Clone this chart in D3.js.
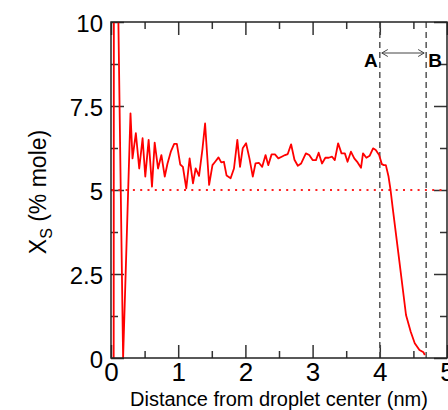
<!DOCTYPE html>
<html>
<head>
<meta charset="utf-8">
<script src="https://cdn.jsdelivr.net/npm/d3@7"></script>
<style>
  html, body { margin: 0; padding: 0; background: #fff; }
  svg { display: block; font-family: Helvetica, Arial, "Liberation Sans", sans-serif; }
</style>
</head>
<body>
<svg id="chart" width="448" height="410"></svg>
<script>
// distance from droplet center (nm) and solvent mole fraction (%)
var distance = [0.04, 0.05, 0.10, 0.11, 0.18,
  0.29, 0.32, 0.37, 0.42, 0.47, 0.51, 0.56, 0.61, 0.65, 0.70, 0.75, 0.80, 0.84,
  0.89, 0.94, 0.98, 1.03, 1.07, 1.12, 1.17, 1.22, 1.26, 1.31, 1.36, 1.40,
  1.46, 1.51, 1.55, 1.60, 1.64, 1.68, 1.72, 1.78, 1.83, 1.88, 1.92, 1.96,
  2.01, 2.06, 2.11, 2.15, 2.20, 2.25, 2.30, 2.34, 2.39, 2.44, 2.49, 2.54,
  2.59, 2.63, 2.68, 2.73, 2.78, 2.83, 2.90, 2.95, 3.00, 3.05, 3.09, 3.14,
  3.19, 3.24, 3.29, 3.33, 3.38, 3.43, 3.48, 3.52, 3.57, 3.62, 3.67, 3.72,
  3.75, 3.80, 3.85, 3.90, 3.94, 3.99, 4.03, 4.06, 4.09, 4.13, 4.16, 4.19,
  4.29, 4.39, 4.46, 4.52, 4.59, 4.65, 4.67];
var moleFraction = [0, 40, 40, 10, 0,
  7.28, 5.94, 6.69, 5.64, 6.54, 5.40, 6.49, 5.10, 6.41, 5.64, 6.04, 5.40, 5.78,
  6.14, 6.37, 6.37, 5.76, 5.69, 5.05, 5.94, 5.20, 5.64, 5.42, 6.20, 6.98,
  5.15, 5.74, 5.84, 5.97, 5.82, 5.84, 5.43, 5.35, 5.64, 6.49, 5.69, 6.24,
  6.39, 5.94, 5.40, 5.79, 5.81, 5.69, 6.04, 5.74, 6.06, 6.06, 5.94, 5.99,
  6.04, 6.07, 6.36, 5.90, 5.72, 5.79, 6.09, 6.04, 5.89, 5.89, 6.11, 5.79,
  5.96, 5.96, 5.99, 5.89, 6.39, 6.09, 6.09, 5.84, 6.14, 5.94, 5.82, 5.66,
  6.09, 5.96, 6.02, 6.24, 6.19, 6.04, 5.77, 5.74, 5.74, 5.40, 5.00, 4.50,
  2.90, 1.28, 0.78, 0.44, 0.24, 0.17, 0.09];

var xMajor = [0, 1, 2, 3, 4, 5],
  xMinor = [0.5, 1.5, 2.5, 3.5, 4.5],
  yMajor = [0, 2.5, 5, 7.5, 10],
  yMinor = [1.25, 3.75, 6.25, 8.75];

var referenceLevel = 5;           // dotted line
var boundaries = [4.0, 4.69];     // A and B
var boundaryLabels = ["A", "B"];

var svg = d3.select("#chart"),
  margin = {top: 22, right: 1, bottom: 52, left: 111},
  width = 448 - margin.left - margin.right,
  height = 410 - margin.top - margin.bottom,
  g = svg.append("g").attr("transform", "translate(" + margin.left + "," + margin.top + ")");

var x = d3.scaleLinear().domain([0, 5]).range([0, width]),
  y = d3.scaleLinear().domain([0, 10]).range([height, 0]);

var pts = distance.map(function(d, i) { return [d, moleFraction[i]]; });

g.append("clipPath").attr("id", "plotClip")
  .append("rect").attr("width", width).attr("height", height);

// axes with inward ticks on all four sides
var tickColor = "#333";
function styleAxis(sel) {
  sel.select(".domain").remove();
  sel.selectAll(".tick line").attr("stroke", tickColor).attr("stroke-width", 1.5);
}

g.append("g").attr("transform", "translate(0," + height + ")")
  .call(d3.axisBottom(x).tickValues(xMajor).tickSize(-13).tickPadding(5).tickFormat(d3.format("d")))
  .call(styleAxis)
  .call(function(s) {
    s.selectAll("text").attr("font-size", 26).attr("fill", "#000")
      .attr("font-family", "Helvetica, Arial, 'Liberation Sans', sans-serif");
  });
g.append("g").attr("transform", "translate(0," + height + ")")
  .call(d3.axisBottom(x).tickValues(xMinor).tickSize(-7).tickFormat(""))
  .call(styleAxis);
g.append("g")
  .call(d3.axisTop(x).tickValues(xMajor).tickSize(-13).tickFormat(""))
  .call(styleAxis);
g.append("g")
  .call(d3.axisTop(x).tickValues(xMinor).tickSize(-7).tickFormat(""))
  .call(styleAxis);

g.append("g")
  .call(d3.axisLeft(y).tickValues(yMajor).tickSize(-13).tickPadding(8).tickFormat(function(d) { return String(d); }))
  .call(styleAxis)
  .call(function(s) {
    s.selectAll("text").attr("font-size", 24).attr("fill", "#000").attr("dy", "0.38em")
      .attr("font-family", "Helvetica, Arial, 'Liberation Sans', sans-serif");
  });
g.append("g")
  .call(d3.axisLeft(y).tickValues(yMinor).tickSize(-7).tickFormat(""))
  .call(styleAxis);
g.append("g").attr("transform", "translate(" + width + ",0)")
  .call(d3.axisRight(y).tickValues(yMajor).tickSize(-13).tickFormat(""))
  .call(styleAxis);
g.append("g").attr("transform", "translate(" + width + ",0)")
  .call(d3.axisRight(y).tickValues(yMinor).tickSize(-7).tickFormat(""))
  .call(styleAxis);

// reference level (dotted red)
g.append("line")
  .attr("x1", x(0)).attr("x2", x(5))
  .attr("y1", y(referenceLevel)).attr("y2", y(referenceLevel))
  .attr("stroke", "#ff2020").attr("stroke-width", 2)
  .attr("stroke-dasharray", "2,5.3");

// boundary lines A and B
g.selectAll(".boundary")
  .data(boundaries)
  .enter().append("line")
  .attr("class", "boundary")
  .attr("x1", function(d) { return x(d); }).attr("x2", function(d) { return x(d); })
  .attr("y1", 0).attr("y2", height)
  .attr("stroke", "#555").attr("stroke-width", 1.5)
  .attr("stroke-dasharray", "6,4");

// profile
g.append("path")
  .datum(pts)
  .attr("clip-path", "url(#plotClip)")
  .attr("fill", "none")
  .attr("stroke", "#ff0000")
  .attr("stroke-width", 1.8)
  .attr("stroke-linejoin", "round")
  .attr("d", d3.line().x(function(d) { return x(d[0]); }).y(function(d) { return y(d[1]); }));

// frame
g.append("rect")
  .attr("width", width).attr("height", height)
  .attr("fill", "none").attr("stroke", "#222").attr("stroke-width", 1.5);

// double arrow between A and B
var arrowY = 31,
  ax1 = x(boundaries[0]) + 2,
  ax2 = x(boundaries[1]) - 2,
  head = 6;
g.append("line")
  .attr("x1", ax1).attr("x2", ax2).attr("y1", arrowY).attr("y2", arrowY)
  .attr("stroke", "#444").attr("stroke-width", 1);
g.append("path")
  .attr("d", "M" + (ax1 + head) + "," + (arrowY - 3.5) + "L" + ax1 + "," + arrowY + "L" + (ax1 + head) + "," + (arrowY + 3.5) +
    "M" + (ax2 - head) + "," + (arrowY - 3.5) + "L" + ax2 + "," + arrowY + "L" + (ax2 - head) + "," + (arrowY + 3.5))
  .attr("fill", "none").attr("stroke", "#444").attr("stroke-width", 1);

g.selectAll(".blabel")
  .data(boundaries)
  .enter().append("text")
  .attr("class", "blabel")
  .attr("x", function(d, i) { return i === 0 ? x(d) - 2 : x(d) + 2; })
  .attr("y", 45)
  .attr("text-anchor", function(d, i) { return i === 0 ? "end" : "start"; })
  .attr("font-size", 19).attr("font-weight", "bold")
  .text(function(d, i) { return boundaryLabels[i]; });

// axis titles
svg.append("text")
  .attr("x", margin.left + width / 2).attr("y", 406)
  .attr("text-anchor", "middle")
  .attr("font-size", 20)
  .text("Distance from droplet center (nm)");

var yt = svg.append("text")
  .attr("transform", "translate(46," + (margin.top + height / 2 + 2) + ") rotate(-90)")
  .attr("text-anchor", "middle")
  .attr("font-size", 23);
yt.append("tspan").text("X");
yt.append("tspan").attr("font-size", 16).attr("dy", 6).text("S");
yt.append("tspan").attr("dy", -6).text(" (% mole)");
</script>
</body>
</html>
